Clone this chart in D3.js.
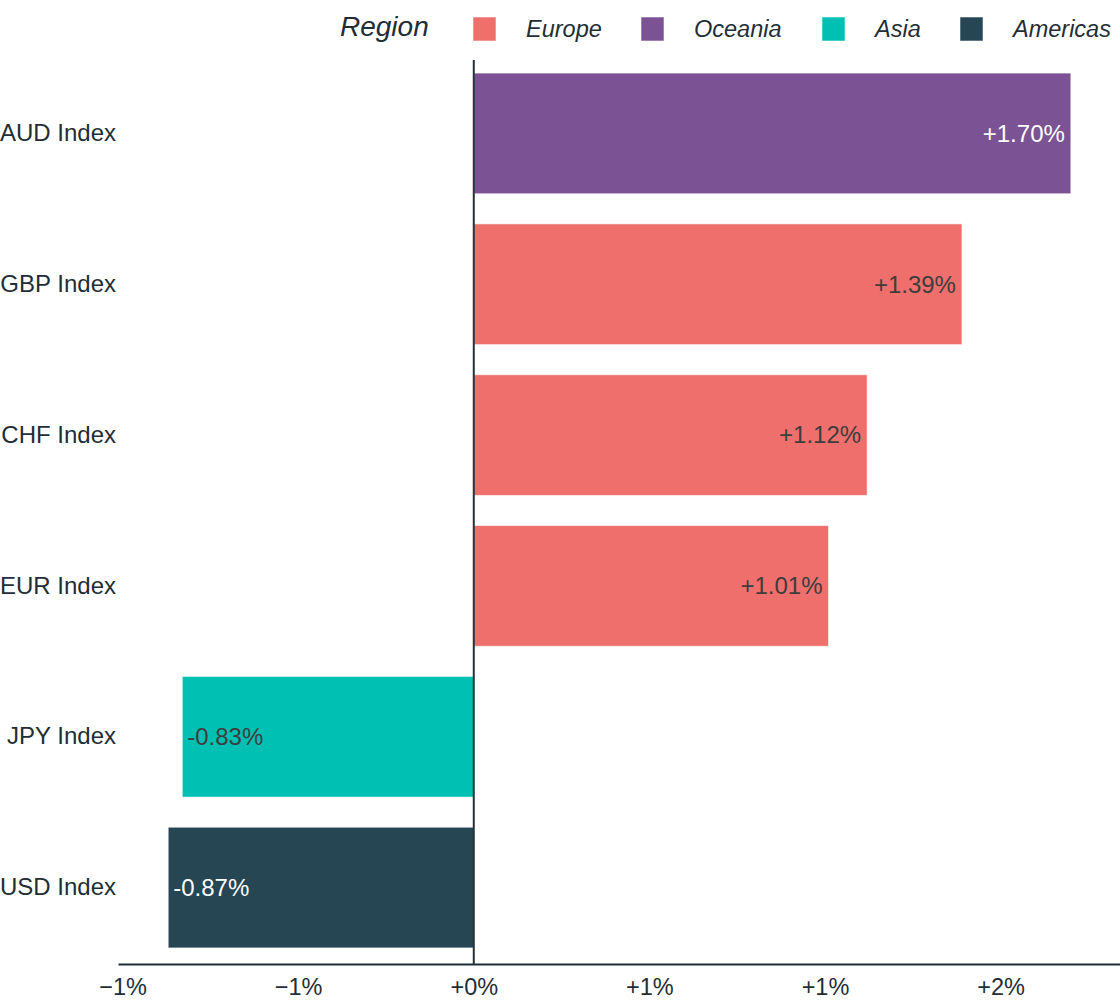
<!DOCTYPE html>
<html>
<head>
<meta charset="utf-8">
<script src="https://cdn.jsdelivr.net/npm/d3@7"></script>
<style>
  body { margin: 0; background: #fff; }
  text { font-family: "Liberation Sans", Arial, sans-serif; }
</style>
</head>
<body>
<div id="chart"></div>
<script>
// data
var indices = ["AUD Index", "GBP Index", "CHF Index", "EUR Index", "JPY Index", "USD Index"];
var changes = [1.70, 1.39, 1.12, 1.01, -0.83, -0.87];
var regionOf = ["Oceania", "Europe", "Europe", "Europe", "Asia", "Americas"];

var regions = ["Europe", "Oceania", "Asia", "Americas"];
var regionColors = ["#ef6f6c", "#7b5394", "#00bfb3", "#264653"];
var xTicks = [-1, -0.5, 0, 0.5, 1, 1.5];

var data = indices.map(function(d, i) {
    return {name: d, value: changes[i], region: regionOf[i]};
});

var width = 1120, height = 1000;
var textDark = "#1f2e36";

var svg = d3.select("#chart").append("svg")
    .attr("width", width)
    .attr("height", height);

// scales
var x = d3.scaleLinear()
    .domain([-1.013, 1.84])
    .range([118, 1120]);

var y = d3.scaleBand()
    .domain(indices)
    .range([58, 963])
    .paddingInner(0.2)
    .paddingOuter(0.1);

var color = d3.scaleOrdinal()
    .domain(regions)
    .range(regionColors);

// bars
svg.selectAll(".bar")
    .data(data)
    .enter().append("rect")
    .attr("class", "bar")
    .attr("x", function(d) { return x(Math.min(0, d.value)); })
    .attr("width", function(d) { return Math.abs(x(d.value) - x(0)); })
    .attr("y", function(d) { return y(d.name); })
    .attr("height", y.bandwidth())
    .attr("fill", function(d) { return color(d.region); })
    .attr("stroke", "#fff")
    .attr("stroke-opacity", 0.55)
    .attr("stroke-width", 1);

// value labels
var fmtVal = function(v) { return (v > 0 ? "+" : "") + v.toFixed(2) + "%"; };
svg.selectAll(".val")
    .data(data)
    .enter().append("text")
    .attr("class", "val")
    .attr("x", function(d) { return d.value >= 0 ? x(d.value) - 6 : x(d.value) + 5; })
    .attr("y", function(d) { return y(d.name) + y.bandwidth() / 2; })
    .attr("dy", "0.35em")
    .attr("text-anchor", function(d) { return d.value >= 0 ? "end" : "start"; })
    .attr("font-size", 24)
    .attr("fill", function(d) {
        return (d.region === "Oceania" || d.region === "Americas") ? "#ffffff" : "#3d3d3d";
    })
    .text(function(d) { return fmtVal(d.value); });

// y axis labels
var yAxis = svg.append("g")
    .attr("transform", "translate(116,0)")
    .call(d3.axisLeft(y).tickSize(0).tickPadding(0));
yAxis.select(".domain").remove();
yAxis.selectAll("text")
    .attr("font-size", 24)
    .attr("font-family", "Liberation Sans, Arial, sans-serif")
    .attr("fill", textDark);

// x axis
var xAxis = svg.append("g")
    .attr("transform", "translate(0,964)")
    .call(d3.axisBottom(x)
        .tickValues(xTicks)
        .tickSize(0)
        .tickPadding(14)
        .tickFormat(function(d) { return d3.format("+.0%")(d / 100); }));
xAxis.select(".domain")
    .attr("stroke", textDark)
    .attr("stroke-width", 2);
xAxis.selectAll("text")
    .attr("font-size", 23.5)
    .attr("font-family", "Liberation Sans, Arial, sans-serif")
    .attr("fill", textDark);

// zero line
svg.append("line")
    .attr("x1", x(0)).attr("x2", x(0))
    .attr("y1", 60).attr("y2", 964)
    .attr("stroke", "#263238")
    .attr("stroke-width", 2);

// legend
var legend = svg.append("g").attr("class", "legend");
legend.append("text")
    .attr("x", 340)
    .attr("y", 36)
    .attr("font-size", 28)
    .attr("font-style", "italic")
    .attr("fill", textDark)
    .text("Region");

var legendX = [473, 641, 822, 960];
var items = legend.selectAll("g.item")
    .data(regions)
    .enter().append("g")
    .attr("class", "item")
    .attr("transform", function(d, i) { return "translate(" + legendX[i] + ",17)"; });

items.append("rect")
    .attr("width", 23)
    .attr("height", 24)
    .attr("fill", function(d) { return color(d); })
    .attr("stroke", "#fff")
    .attr("stroke-opacity", 0.55);

items.append("text")
    .attr("x", 53)
    .attr("y", 20)
    .attr("font-size", 23.5)
    .attr("font-style", "italic")
    .attr("fill", textDark)
    .text(function(d) { return d; });
</script>
</body>
</html>
